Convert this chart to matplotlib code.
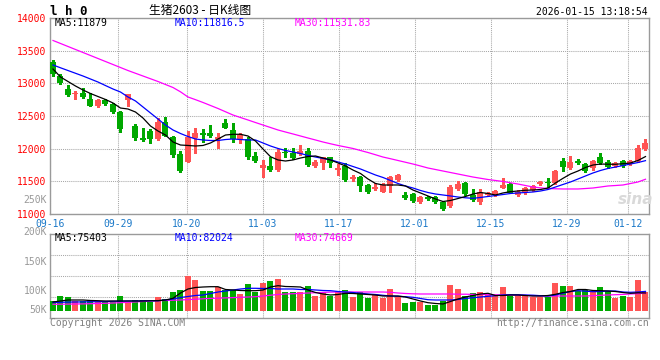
import matplotlib
matplotlib.use("Agg")
import matplotlib.pyplot as plt
import numpy as np

# ---------------- data ----------------
tick_idx = [0, 9, 18, 28, 38, 48, 58, 68, 76]
tick_labels = ['09-16', '09-29', '10-20', '11-03', '11-17', '12-01', '12-15', '12-29', '01-12']

open_ = [13330, 13112, 12913, 12835, 12850, 12760, 12653, 12745, 12680, 12565,
         12745, 12347, 12168, 12270, 12153, 12404, 12174, 11918, 11801, 12168,
         12235, 12244, 12143, 12397, 12286, 12153, 12143, 11888, 11700, 11735,
         11673, 11954, 11929, 11914, 11964, 11739, 11776, 11878, 11673, 11739,
         11536, 11562, 11444, 11383, 11341, 11433, 11520, 11291, 11306, 11188,
         11265, 11255, 11188, 11123, 11378, 11479, 11291, 11188, 11291, 11291,
         11403, 11459, 11291, 11341, 11367, 11455, 11495, 11479, 11811, 11709,
         11816, 11761, 11700, 11868, 11801, 11735, 11811, 11761, 11816, 11990]
high = [13357, 13150, 12975, 12887, 12925, 12850, 12760, 12760, 12700, 12580,
        12840, 12378, 12316, 12301, 12469, 12480, 12190, 11964, 12275, 12321,
        12296, 12362, 12235, 12454, 12388, 12235, 12183, 11954, 11827, 11877,
        11990, 12006, 12015, 12056, 12010, 11827, 11870, 11880, 11765, 11785,
        11600, 11580, 11460, 11475, 11470, 11582, 11612, 11341, 11320, 11270,
        11280, 11270, 11200, 11444, 11505, 11495, 11378, 11378, 11340, 11370,
        11546, 11470, 11360, 11410, 11445, 11510, 11546, 11680, 11853, 11888,
        11837, 11780, 11830, 11938, 11820, 11800, 11830, 11830, 12060, 12148]
low = [13112, 12990, 12805, 12765, 12780, 12650, 12640, 12670, 12550, 12255,
       12660, 12133, 12122, 12087, 12140, 12190, 11877, 11648, 11790, 11929,
       12107, 12183, 12015, 12310, 12097, 12091, 11842, 11800, 11571, 11658,
       11665, 11877, 11842, 11903, 11740, 11724, 11689, 11724, 11597, 11510,
       11510, 11357, 11320, 11370, 11330, 11341, 11510, 11230, 11185, 11175,
       11215, 11175, 11065, 11110, 11365, 11290, 11200, 11153, 11280, 11280,
       11395, 11315, 11270, 11300, 11355, 11440, 11409, 11465, 11663, 11684,
       11770, 11640, 11680, 11770, 11705, 11720, 11720, 11745, 11800, 11975]
close = [13150, 13000, 12821, 12840, 12795, 12658, 12745, 12690, 12565, 12297,
         12835, 12159, 12133, 12148, 12404, 12199, 11903, 11663, 12174, 12235,
         12209, 12199, 12183, 12321, 12148, 12205, 11868, 11811, 11750, 11673,
         11944, 11929, 11862, 11964, 11750, 11801, 11868, 11776, 11700, 11520,
         11571, 11429, 11332, 11409, 11444, 11562, 11597, 11245, 11199, 11255,
         11230, 11188, 11077, 11409, 11459, 11302, 11214, 11341, 11317, 11357,
         11444, 11326, 11341, 11393, 11429, 11495, 11470, 11663, 11724, 11801,
         11785, 11663, 11811, 11785, 11724, 11785, 11739, 11811, 12006, 12091]

ma5 = [13219, 13097, 13028, 12959, 12898, 12844, 12798, 12753, 12699, 12622,
       12607, 12561, 12469, 12347, 12270, 12209, 12102, 12056, 12049, 12041,
       12049, 12087, 12148, 12209, 12220, 12220, 12194, 12117, 11995, 11877,
       11827, 11811, 11827, 11857, 11880, 11888, 11857, 11827, 11781, 11735,
       11673, 11620, 11536, 11467, 11444, 11444, 11444, 11429, 11367, 11322,
       11276, 11230, 11191, 11207, 11237, 11268, 11306, 11329, 11314, 11291,
       11322, 11342, 11352, 11363, 11367, 11375, 11398, 11475, 11546, 11612,
       11658, 11712, 11750, 11765, 11762, 11761, 11770, 11781, 11819, 11879]
ma10 = [13281, 13238, 13196, 13154, 13112, 13066, 13020, 12966, 12913, 12867,
        12791, 12730, 12638, 12546, 12454, 12362, 12286, 12232, 12186, 12148,
        12133, 12125, 12125, 12140, 12148, 12140, 12133, 12133, 12087, 12041,
        12003, 11972, 11949, 11926, 11896, 11872, 11850, 11831, 11796, 11765,
        11727, 11689, 11643, 11597, 11559, 11513, 11467, 11429, 11398, 11360,
        11329, 11306, 11291, 11276, 11260, 11248, 11240, 11253, 11268, 11283,
        11298, 11314, 11322, 11329, 11337, 11352, 11375, 11413, 11452, 11490,
        11536, 11582, 11628, 11666, 11697, 11719, 11742, 11765, 11788, 11816.5]
ma30 = [13656, 13610, 13564, 13518, 13472, 13426, 13380, 13334, 13288, 13242,
        13196, 13154, 13112, 13070, 13028, 12982, 12936, 12870, 12791, 12750,
        12707, 12661, 12615, 12565, 12515, 12477, 12439, 12400, 12362, 12324,
        12286, 12255, 12225, 12194, 12163, 12133, 12102, 12075, 12049, 12026,
        12003, 11972, 11941, 11907, 11872, 11846, 11819, 11792, 11765, 11735,
        11704, 11681, 11658, 11635, 11612, 11589, 11566, 11547, 11528, 11513,
        11498, 11478, 11459, 11436, 11413, 11400, 11390, 11386, 11383, 11383,
        11383, 11390, 11398, 11413, 11429, 11436, 11444, 11467, 11490, 11531.83]

# volume in thousands of lots
vol_k = [41.8, 62.7, 58.5, 43.1, 43.1, 47.2, 38.9, 36.4, 36.4, 61.4,
         37.6, 44.7, 44.7, 37.6, 57.3, 51.4, 78.2, 86.5, 146.3, 128.3,
         82.3, 82.3, 100.3, 89.0, 89.0, 69.8, 111.6, 79.4, 117.0, 124.1,
         132.5, 78.2, 78.2, 78.2, 103.2, 61.4, 78.2, 61.4, 79.4, 86.5,
         57.3, 80.7, 53.1, 65.6, 54.3, 90.7, 61.4, 32.2, 36.4, 36.4,
         23.8, 23.8, 40.5, 107.4, 90.7, 61.4, 74.0, 78.2, 65.6, 61.4,
         99.1, 61.4, 61.4, 61.4, 58.5, 58.5, 58.5, 115.8, 103.2, 103.2,
         83.6, 86.5, 82.3, 99.1, 82.3, 53.1, 61.4, 58.5, 128.3, 78.2]
vma5_k = [37.6, 41.8, 46.0, 46.0, 46.0, 43.9, 43.1, 41.8, 41.8, 41.8,
          41.8, 41.8, 41.8, 42.6, 43.1, 46.0, 53.1, 75.2, 92.0, 98.2,
          100.3, 101.6, 101.6, 89.9, 87.8, 85.7, 84.9, 84.9, 87.8, 100.3,
          105.8, 102.4, 101.6, 100.3, 87.8, 77.3, 71.1, 66.9, 69.0, 74.0,
          73.2, 71.1, 69.0, 66.9, 62.7, 62.7, 62.7, 58.5, 50.2, 41.8,
          34.7, 31.4, 29.3, 39.7, 50.2, 58.5, 64.8, 71.1, 74.0, 64.8,
          64.8, 66.9, 66.9, 64.8, 62.7, 62.7, 64.8, 69.8, 77.3, 81.5,
          89.9, 89.9, 85.7, 84.9, 83.6, 81.5, 77.3, 74.0, 76.0, 75.4]
vma10_k = [35.5, 36.4, 37.2, 37.6, 38.0, 38.5, 38.9, 39.7, 40.5, 41.0,
           41.8, 42.2, 42.6, 42.6, 43.1, 46.0, 50.2, 56.4, 60.6, 64.8,
           66.9, 73.2, 79.4, 83.6, 87.8, 92.0, 94.9, 94.9, 94.1, 94.1,
           92.0, 92.0, 92.0, 89.9, 89.9, 87.8, 85.7, 84.9, 81.5, 79.4,
           77.3, 74.0, 71.1, 69.0, 65.6, 62.7, 61.4, 59.8, 57.3, 52.3,
           47.2, 46.0, 46.0, 46.0, 48.1, 52.3, 55.6, 58.5, 61.4, 64.0,
           66.9, 68.1, 67.7, 66.9, 66.0, 64.0, 62.7, 66.9, 74.0, 81.5,
           84.9, 82.8, 80.7, 81.5, 83.6, 83.6, 79.4, 78.2, 79.4, 82.0]
vma30_k = [28.0, 28.4, 28.8, 29.3, 29.7, 30.5, 31.4, 32.2, 33.4, 34.7,
           36.4, 38.0, 39.7, 41.8, 43.1, 43.9, 45.1, 46.0, 47.7, 49.3,
           51.0, 52.7, 53.5, 54.8, 56.0, 57.3, 58.5, 59.8, 62.7, 66.0,
           69.0, 71.1, 72.3, 73.6, 75.2, 76.5, 77.7, 79.0, 79.4, 79.4,
           79.4, 79.4, 79.4, 79.4, 79.4, 78.2, 75.2, 73.2, 71.9, 71.1,
           71.1, 71.1, 71.1, 71.1, 70.2, 70.2, 69.4, 69.0, 68.1, 67.7,
           66.9, 66.9, 66.0, 64.8, 64.0, 63.5, 62.7, 62.7, 62.7, 62.7,
           62.7, 62.7, 64.0, 65.6, 66.9, 68.1, 69.4, 71.1, 72.7, 74.7]

price_ticks = [11000, 11500, 12000, 12500, 13000, 13500, 14000]

# ---------------- styling ----------------
RED = '#ff5454'
GREEN = '#00a800'
GRID = '#a8a8a8'
SPINE = '#9a9a9a'
BLUE_TXT = '#1a78c8'
MONO = 'DejaVu Sans Mono'
W, H = 660, 360

fig = plt.figure(figsize=(6.6, 3.6), dpi=100)
fig.patch.set_facecolor('white')

def fx(px):
    return px / W

def fy(py):
    return 1 - py / H

ax = fig.add_axes([fx(50), fy(214), fx(649) - fx(50), fy(18) - fy(214)])
axv = fig.add_axes([fx(50), fy(318), fx(649) - fx(50), fy(234) - fy(318)])

n = len(close)
idx = np.arange(n)
o = np.array(open_, float)
c = np.array(close, float)
hi = np.array(high, float)
lo = np.array(low, float)
up = c >= o
cols = [RED if u else GREEN for u in up]

xlim = (-0.4, 79.47)
grid_x = [(7.6 * k - 3) / 7.5 for k in tick_idx]

# ---- candles ----
body_lo = np.minimum(o, c)
body_h = np.maximum(np.abs(c - o), 15)
ax.vlines(idx, lo, hi, colors=cols, linewidth=0.75, antialiased=False, zorder=3)
ax.bar(idx, body_h, bottom=body_lo, width=0.8, color=cols, linewidth=0,
       antialiased=False, zorder=4)
ax.plot(idx, ma30, color='#ff00ff', lw=0.9, zorder=5)
ax.plot(idx, ma10, color='#0000ff', lw=0.9, zorder=5)
ax.plot(idx, ma5, color='black', lw=0.9, zorder=5)

ax.set_xlim(*xlim)
ax.set_ylim(11000, 14000)
ax.set_yticks(price_ticks)
ax.set_yticklabels([str(t) for t in price_ticks], color='#ff0000',
                   fontsize=7, family=MONO)
ax.set_xticks(grid_x)
ax.set_xticklabels(tick_labels, color=BLUE_TXT, fontsize=7, family=MONO)
ax.tick_params(axis='both', length=0)
ax.tick_params(axis='y', pad=3)
ax.tick_params(axis='x', pad=3.5)
ax.grid(True, color=GRID, linestyle=(0, (1, 1)), linewidth=0.75)
ax.set_axisbelow(True)
for s in ax.spines.values():
    s.set_color(SPINE)
    s.set_linewidth(1)

# ---- volume ----
vol = np.array(vol_k) * 1000
axv.bar(idx, vol, width=0.8, color=cols, linewidth=0, antialiased=False, zorder=3)
axv.plot(idx, np.array(vma30_k) * 1000, color='#ff00ff', lw=0.9, zorder=5)
axv.plot(idx, np.array(vma10_k) * 1000, color='#0000ff', lw=0.9, zorder=5)
axv.plot(idx, np.array(vma5_k) * 1000, color='black', lw=0.9, zorder=5)
vlo, vhi = -29260, 321860
axv.set_xlim(*xlim)
axv.set_ylim(vlo, vhi)
axv.set_yticks([vlo + (vhi - vlo) * f for f in (0.25, 0.5, 0.75)])
axv.set_yticklabels([])
axv.set_xticks(grid_x)
axv.set_xticklabels([])
axv.tick_params(axis='both', length=0)
axv.grid(True, color=GRID, linestyle=(0, (1, 1)), linewidth=0.75)
axv.set_axisbelow(True)
for s in axv.spines.values():
    s.set_color(SPINE)
    s.set_linewidth(1)

# ---- texts ----
def t(px, py, s, **kw):
    kw.setdefault('family', MONO)
    kw.setdefault('fontsize', 7)
    kw.setdefault('va', 'center')
    fig.text(fx(px), fy(py), s, **kw)

t(50, 11.5, 'l h 0', fontsize=9, fontweight='bold', color='black')
t(200, 10.5, '生猪2603 - 日K线图', family=['Noto Sans CJK SC', 'DejaVu Sans'],
  fontsize=8.5, ha='center', color='black')
t(648, 12, '2026-01-15 13:18:54', ha='right', color='black')

t(55, 23.5, 'MA5:11879', color='black')
t(175, 23.5, 'MA10:11816.5', color='#0000ff')
t(295, 23.5, 'MA30:11531.83', color='#ff00ff')

t(47, 200, '250K', ha='right', color='#999999')
for lab, py in (('200K', 232), ('150K', 262), ('100K', 291), ('50K', 310)):
    t(47, py, lab, ha='right', color='#999999')

t(55, 238, 'MA5:75403', color='black')
t(175, 238, 'MA10:82024', color='#0000ff')
t(295, 238, 'MA30:74669', color='#ff00ff')

t(50, 323.5, 'Copyright 2026 SINA.COM', color='#808080')
t(649, 323.5, 'http://finance.sina.com.cn', ha='right', color='#808080')

t(636, 199, 'sina', family='DejaVu Sans', fontsize=11, fontweight='bold',
  style='italic', ha='center', color='#d9d9d9')

fig.savefig('out.png', dpi=100, facecolor='white')
